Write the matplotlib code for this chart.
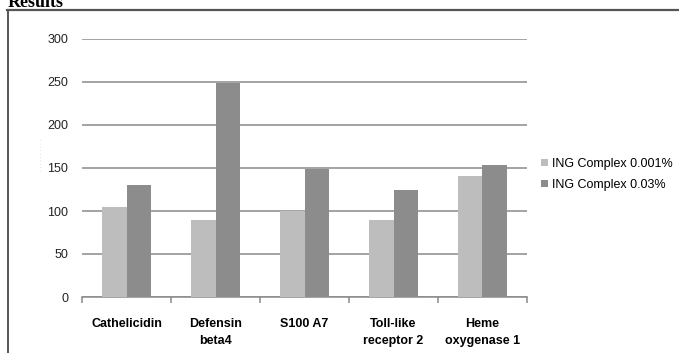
import numpy as np
import matplotlib
matplotlib.use("Agg")
import matplotlib.pyplot as plt
from matplotlib.lines import Line2D

# expression values per gene, two concentrations
genes = ["Cathelicidin", "Defensin\nbeta4", "S100 A7", "Toll-like\nreceptor 2", "Heme\noxygenase 1"]
low_dose = [105, 90, 100, 90, 141]
high_dose = [130, 249, 149, 124, 153]
series_names = ["ING Complex 0.001%", "ING Complex 0.03%"]
y_ticks = [0, 50, 100, 150, 200, 250, 300]

plt.rcParams['font.family'] = ['Liberation Sans', 'DejaVu Sans']

fig = plt.figure(figsize=(6.79, 3.53), dpi=100)
ax = fig.add_axes([82/679, 56/353, 445/679, 258/353])

x = np.arange(len(genes))
w = 0.28
light = "#bdbdbd"
dark = "#8c8c8c"
ax.bar(x - w/2, low_dose, w, color=light, label=series_names[0], zorder=3)
ax.bar(x + w/2, high_dose, w, color=dark, label=series_names[1], zorder=3)

ax.set_xlim(-0.5, len(genes) - 0.5)
ax.set_ylim(0, 300)
ax.set_yticks(y_ticks)
ax.set_yticklabels([str(v) for v in y_ticks], fontsize=9, color="#222222")
ax.tick_params(axis="y", length=0, pad=10)
ax.grid(axis="y", color="#8a8a8a", linewidth=1.1, zorder=0)

# category labels under the bars, boundary ticks between categories
ax.set_xticks(x)
ax.set_xticklabels(genes, fontsize=9, fontweight="bold", linespacing=1.6)
ax.tick_params(axis="x", which="major", length=0, pad=15)
ax.set_xticks(np.arange(len(genes) + 1) - 0.5, minor=True)
ax.tick_params(axis="x", which="minor", length=4, color="#8a8a8a", width=1.1)

for s in ["top", "right", "left"]:
    ax.spines[s].set_visible(False)
ax.spines["bottom"].set_color("#8a8a8a")
ax.spines["bottom"].set_linewidth(1.1)

# faint axis caption
ax.text(-0.09, 0.55, "· · · · · · · · · ·", transform=ax.transAxes, rotation=90,
        fontsize=4, color="#aaaaaa", ha="center", va="center")

leg = ax.legend(loc="center left", bbox_to_anchor=(1.02, 0.475), frameon=False,
                fontsize=9, handlelength=0.55, handleheight=0.55, handletextpad=0.3,
                labelspacing=0.75, borderaxespad=0)

# outer frame and heading
fig.add_artist(Line2D([7/679, 1], [1 - 9.5/353] * 2, color="#555555", linewidth=1.6))
fig.add_artist(Line2D([8/679] * 2, [0, 1 - 9.5/353], color="#555555", linewidth=1.4))
fig.text(8/679, 1 - 7/353, "Results", fontsize=13, fontweight="bold",
         family="Liberation Serif", va="baseline", ha="left")

fig.savefig("out.png", dpi=100)
